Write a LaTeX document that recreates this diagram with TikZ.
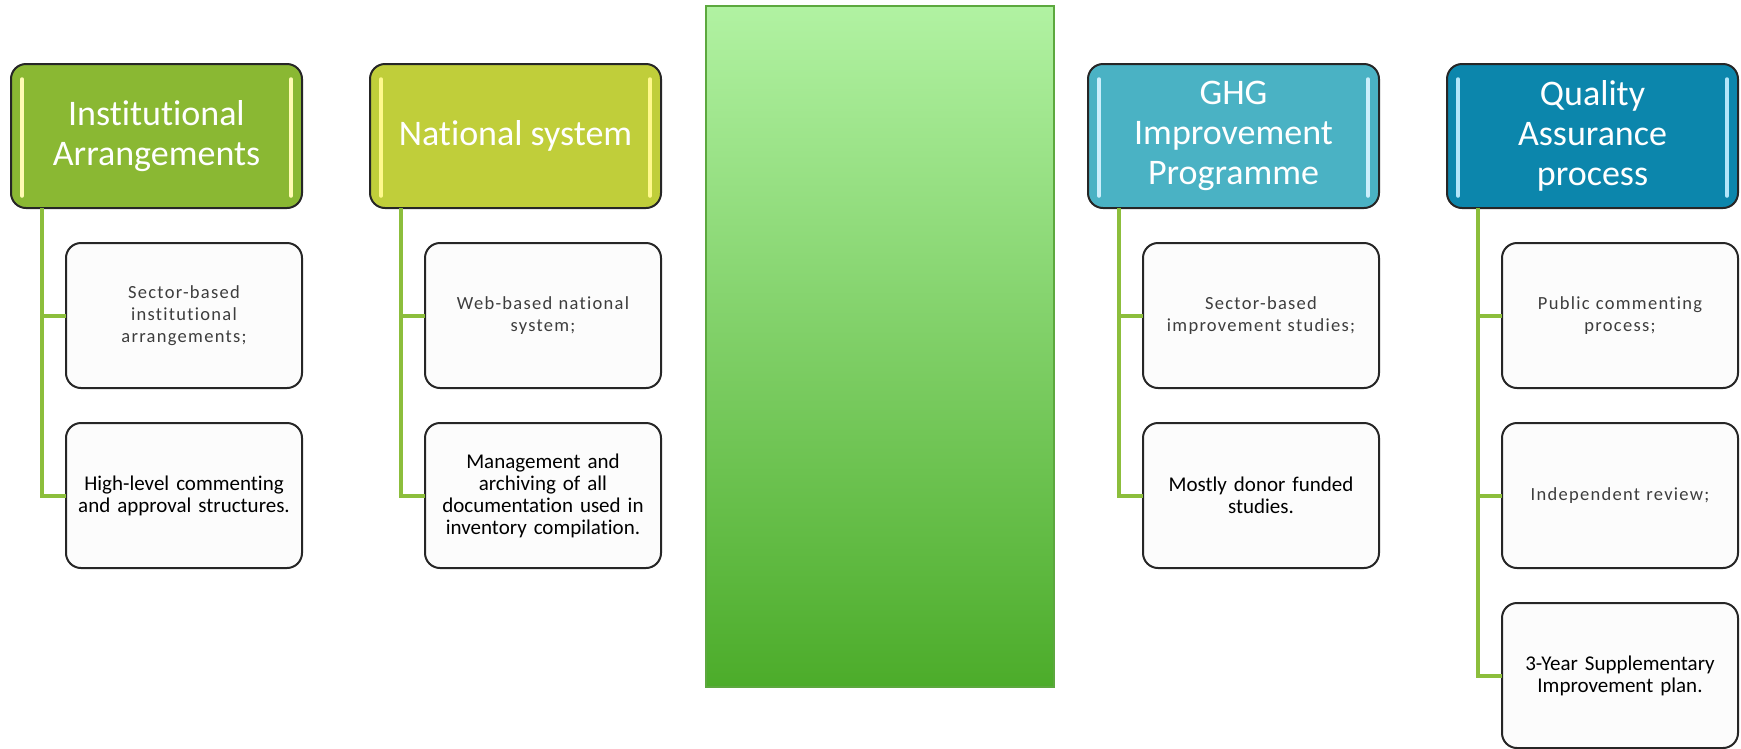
\documentclass[tikz,border=0pt]{standalone}
\usepackage{fontspec}
\setmainfont{Carlito}[Ligatures=NoCommon]
\newfontfamily\spacedfont[LetterSpace=7,Ligatures=NoCommon]{Carlito}
\usepackage{tikz}
\usetikzlibrary{positioning}
\definecolor{instgreen}{RGB}{138,184,51}
\definecolor{natlime}{RGB}{192,206,58}
\definecolor{ghgteal}{RGB}{74,178,196}
\definecolor{qablue}{RGB}{12,134,172}
\definecolor{linkgreen}{RGB}{140,190,60}
\definecolor{bartop}{RGB}{177,242,162}
\definecolor{barbottom}{RGB}{76,172,42}
\definecolor{barline}{RGB}{92,168,62}
\tikzstyle{head} = [rectangle, draw=black!85, line width=2pt, rounded corners=15pt,
    minimum width=291pt, minimum height=144pt, text=white, align=center,
    font=\fontsize{36}{40}\selectfont, outer sep=0pt]
\tikzstyle{item} = [rectangle, draw=black!85, line width=2pt, rounded corners=15pt,
    fill=black!1, minimum width=236pt, minimum height=145pt, text width=220pt,
    align=center, font=\fontsize{21}{22}\selectfont, outer sep=0pt]
\tikzstyle{soft} = [font=\spacedfont\fontsize{18.5}{22}\selectfont, text=black!76]
\tikzstyle{link} = [draw, linkgreen, line width=4pt]
\tikzset{shine/.style={path picture={
    \draw[#1, line width=3.5pt, line cap=round]
      ([xshift=11pt,yshift=-15pt]path picture bounding box.north west) --
      ([xshift=11pt,yshift=12pt]path picture bounding box.south west);
    \draw[#1, line width=3.5pt, line cap=round]
      ([xshift=-11pt,yshift=-15pt]path picture bounding box.north east) --
      ([xshift=-11pt,yshift=12pt]path picture bounding box.south east);}}}

\begin{document}
\begin{tikzpicture}[x=1pt,y=1pt]
    \useasboundingbox (0,0) rectangle (1741,-748);
    % Place nodes
    \node [head, fill=instgreen, shine=yellow!30!white] (inst) at (156.5,-136) {Institutional\\Arrangements};
    \node [head, fill=natlime, shine=yellow!45!white, right=68pt of inst] (natl) {National system};
    \node [rectangle, draw=barline, line width=2pt, top color=bartop, bottom color=barbottom,
        minimum width=348pt, minimum height=681pt, outer sep=0pt] (bar) at (880,-346.5) {};
    \node [head, fill=ghgteal, shine=cyan!20!white, right=427pt of natl] (ghg) {GHG\\Improvement\\Programme};
    \node [head, fill=qablue, shine=cyan!30!white, right=68pt of ghg] (qa) {Quality\\Assurance\\process};

    \node [item, soft, below left=35pt and 0pt of inst.south east] (inst1) {Sector-based\\institutional\\arrangements;};
    \node [item, below=35pt of inst1] (inst2) {High-level commenting\\and approval structures.};
    \node [item, soft, below left=35pt and 0pt of natl.south east] (natl1) {Web-based national\\system;};
    \node [item, below=35pt of natl1] (natl2) {Management and\\archiving of all\\documentation used in\\inventory compilation.};
    \node [item, soft, below left=35pt and 0pt of ghg.south east] (ghg1) {Sector-based\\improvement studies;};
    \node [item, below=35pt of ghg1] (ghg2) {Mostly donor funded\\studies.};
    \node [item, soft, below left=35pt and 0pt of qa.south east] (qa1) {Public commenting\\process;};
    \node [item, soft, below=35pt of qa1] (qa2) {Independent review;};
    \node [item, below=35pt of qa2] (qa3) {3-Year Supplementary\\Improvement plan.};

    % Draw edges
    \path [link] ([xshift=31pt]inst.south west) |- (inst1.west);
    \path [link] ([xshift=31pt]inst.south west) |- (inst2.west);
    \path [link] ([xshift=31pt]natl.south west) |- (natl1.west);
    \path [link] ([xshift=31pt]natl.south west) |- (natl2.west);
    \path [link] ([xshift=31pt]ghg.south west) |- (ghg1.west);
    \path [link] ([xshift=31pt]ghg.south west) |- (ghg2.west);
    \path [link] ([xshift=31pt]qa.south west) |- (qa1.west);
    \path [link] ([xshift=31pt]qa.south west) |- (qa2.west);
    \path [link] ([xshift=31pt]qa.south west) |- (qa3.west);

\end{tikzpicture}
\end{document}
